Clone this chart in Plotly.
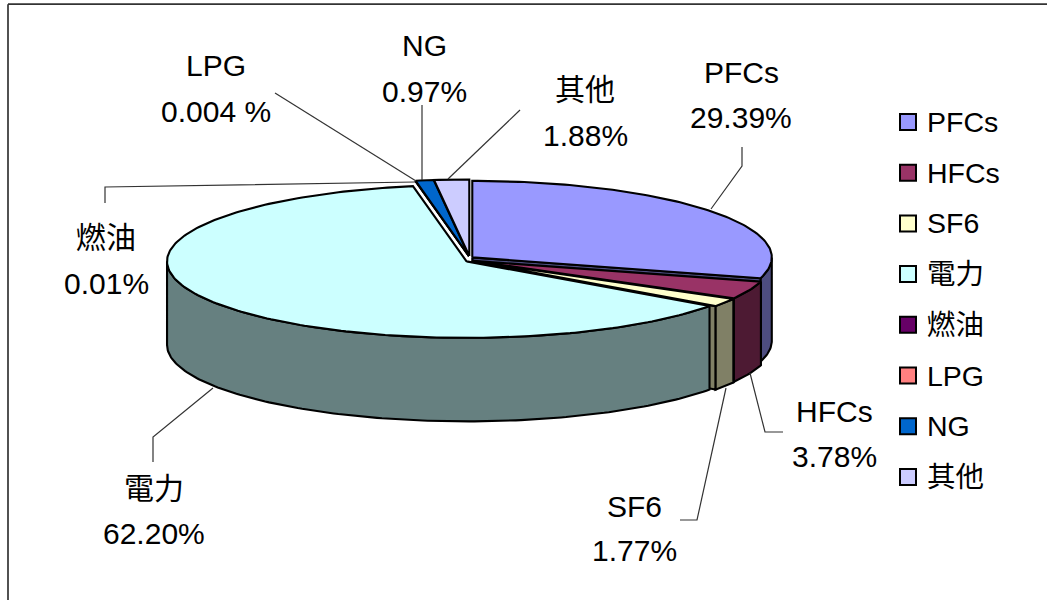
import math
import plotly.graph_objects as go

categories = ["PFCs", "HFCs", "SF6", "電力", "燃油", "LPG", "NG", "其他"]
shares = [29.39, 3.78, 1.77, 62.20, 0.01, 0.004, 0.97, 1.88]
value_labels = ["29.39%", "3.78%", "1.77%", "62.20%", "0.01%", "0.004 %", "0.97%", "1.88%"]
top_colors = ["#9999FF", "#993366", "#FFFFCC", "#CCFFFF", "#660066", "#FF8080", "#0066CC", "#CCCCFF"]
wall_colors = ["#4D4D80", "#4D1A33", "#808066", "#668080", "#330033", "#804040", "#003366", "#666680"]

CX, CY, RX, RY, DEPTH, EXPLODE = 469.5, 259.5, 299.5, 76.5, 83.5, 3.5
FONT = "Liberation Sans, Noto Sans CJK TC, sans-serif"

label_pos = [(741, 72, 117), (834, 411, 456), (634, 506, 550), (154, 488, 533),
             (106, 237, 283), (216, 65, 111), (424, 45, 91), (585, 89, 135)]
leaders = [[(742, 147), (742, 166), (711, 209)],
           [(750, 373), (765, 432), (783, 432)],
           [(726, 388), (697, 520), (680, 520)],
           [(213, 388), (153, 437), (153, 462)],
           [(105, 203), (105, 187), (415, 182)],
           [(275, 93), (416, 181)],
           [(422, 105), (422, 180)],
           [(520, 110), (448, 179)]]

total = sum(shares)
spans = []
acc = 0.0
for v in shares:
    spans.append((acc / total * 360, (acc + v) / total * 360))
    acc += v


def pt(deg, ox, oy, dz=0.0):
    r = math.radians(deg)
    return CX + ox + RX * math.sin(r), CY + oy - RY * math.cos(r) + dz


def arc(a, b, ox, oy, dz=0.0):
    n = max(2, int(abs(b - a)) + 2)
    pts = [pt(a + (b - a) * i / (n - 1), ox, oy, dz) for i in range(n)]
    return pts


fig = go.Figure()


def poly(points, color, width=2.1):
    fig.add_trace(go.Scatter(
        x=[p[0] for p in points] + [points[0][0]],
        y=[p[1] for p in points] + [points[0][1]],
        mode="lines", fill="toself", fillcolor=color,
        line=dict(color="black", width=width), hoverinfo="skip", showlegend=False))


offsets = []
for a, b in spans:
    m = math.radians((a + b) / 2)
    offsets.append((EXPLODE * math.sin(m), -EXPLODE * math.cos(m)))

# walls, back to front
for i, (a, b) in enumerate(spans):
    ox, oy = offsets[i]
    lo, hi = max(a, 90), min(b, 270)
    if lo < hi:
        top = arc(lo, hi, ox, oy)
        bottom = arc(hi, lo, ox, oy, DEPTH)
        poly(top + bottom, wall_colors[i])
    if 90 <= b <= 180:
        apex = (CX + ox, CY + oy)
        apex_low = (apex[0], apex[1] + DEPTH)
        poly([apex, pt(b, ox, oy), pt(b, ox, oy, DEPTH), apex_low], wall_colors[i])

# top faces
for i, (a, b) in enumerate(spans):
    ox, oy = offsets[i]
    poly([(CX + ox, CY + oy)] + arc(a, b, ox, oy), top_colors[i])

# leader lines
for seg in leaders:
    fig.add_trace(go.Scatter(x=[p[0] for p in seg], y=[p[1] for p in seg], mode="lines",
                             line=dict(color="#333333", width=1.2), hoverinfo="skip", showlegend=False))

# legend
lx = [908] * len(categories)
ly = [122 + 50.7 * i for i in range(len(categories))]
fig.add_trace(go.Scatter(
    x=lx, y=ly, mode="markers",
    marker=dict(symbol="square", size=16, color=top_colors, line=dict(color="black", width=2)),
    hoverinfo="skip", showlegend=False))
for name, y in zip(categories, ly):
    fig.add_annotation(x=925, y=y, text=name, showarrow=False, xanchor="left", yanchor="middle",
                       font=dict(family=FONT, size=28.5, color="black"))

# data labels
for name, val, (x, y1, y2) in zip(categories, value_labels, label_pos):
    fig.add_annotation(x=x, y=y1, text=name, showarrow=False, font=dict(family=FONT, size=30, color="black"))
    fig.add_annotation(x=x, y=y2, text=val, showarrow=False, font=dict(family=FONT, size=30, color="black"))

# chart frame: only its top and left edges fall inside the picture
fig.add_shape(type="line", x0=8, y0=4.2, x1=1047, y1=4.2, line=dict(color="#333333", width=1.7))
fig.add_shape(type="line", x0=8, y0=4.2, x1=8, y1=600, line=dict(color="#333333", width=1.7))

fig.update_layout(
    width=1047, height=600, margin=dict(l=0, r=0, t=0, b=0), autosize=False,
    paper_bgcolor="white", plot_bgcolor="white", showlegend=False,
    xaxis=dict(range=[0, 1047], visible=False, fixedrange=True),
    yaxis=dict(range=[600, 0], visible=False, fixedrange=True),
)
fig.write_html("out.html", config={"displayModeBar": False},
               post_script="document.body.style.margin='0';document.documentElement.style.overflow='hidden';")
